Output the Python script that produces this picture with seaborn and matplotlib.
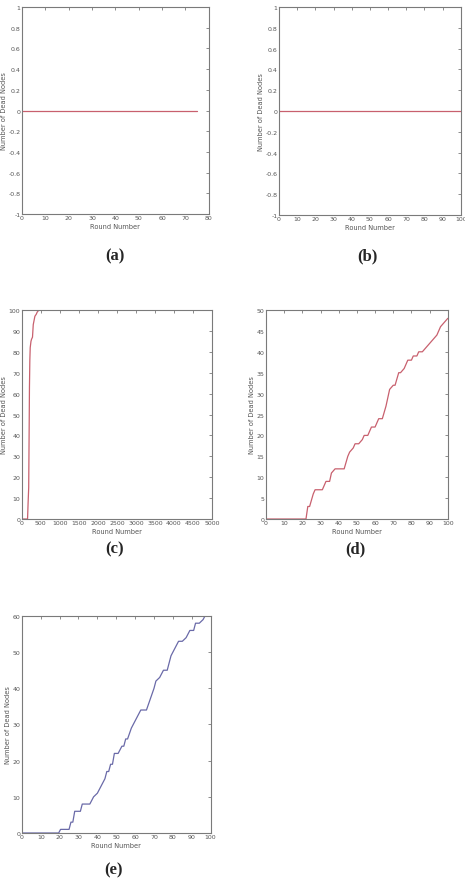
import numpy as np
import pandas as pd
import matplotlib
matplotlib.use('Agg')
import matplotlib.pyplot as plt
import seaborn as sns

# --- data ---
# (a) and (b): no dead nodes at all
a_rounds = [0, 75]
a_dead = [0, 0]
b_rounds = [0, 100]
b_dead = [0, 0]

# (c): all nodes die within ~500 rounds
c_rounds = [0, 150, 165, 180, 195, 200, 210, 220, 240, 255, 280, 300, 343, 380, 404, 450, 492]
c_dead = [0, 0, 8, 15, 50, 63, 76, 82, 85, 86, 87, 93, 97, 98, 99, 100, 100]

# (d): red step-like curve
d_rounds = [0, 21, 22, 23, 24, 26, 27, 31, 32, 33, 35, 36, 38, 43, 45, 46, 48, 49, 51, 53,
            54, 56, 58, 60, 62, 64, 66, 68, 70, 71, 73, 74, 76, 78, 80, 81, 83, 84, 86, 88,
            90, 92, 94, 96, 98, 100]
d_dead = [0, 0, 0, 3, 3, 6, 7, 7, 8, 9, 9, 11, 12, 12, 15, 16, 17, 18, 18, 19,
          20, 20, 22, 22, 24, 24, 27, 31, 32, 32, 35, 35, 36, 38, 38, 39, 39, 40, 40, 41,
          42, 43, 44, 46, 47, 48]

# (e): blue step-like curve
e_rounds = [0, 19.5, 20.5, 25, 26, 27, 28, 31, 32, 36, 38, 40, 42, 44, 45, 46, 47, 48, 49, 51,
            53, 54, 55, 56, 58, 60, 62, 63, 66, 68, 70, 71, 73, 75, 77, 79, 81, 83, 85, 87,
            89, 91, 92, 94, 96, 97]
e_dead = [0, 0, 1, 1, 3, 3, 6, 6, 8, 8, 10, 11, 13, 15, 17, 17, 19, 19, 22, 22,
          24, 24, 26, 26, 29, 31, 33, 34, 34, 37, 40, 42, 43, 45, 45, 49, 51, 53, 53, 54,
          56, 56, 58, 58, 59, 60]

unit_ticks = [-1, -0.8, -0.6, -0.4, -0.2, 0, 0.2, 0.4, 0.6, 0.8, 1]

sns.set_style('white')
plt.rcParams['font.family'] = ['DejaVu Sans']

RED = '#c8606e'
BLUE = '#6a6aa8'
GREY = '#7a7a7a'
TXT = '#555555'

fig = plt.figure(figsize=(4.65, 8.79), dpi=100)

panels = [
    ([0.047, 0.7554, 0.402, 0.2355], a_rounds, a_dead, RED, (0, 80), (-1, 1),
     list(range(0, 81, 10)), unit_ticks, '(a)', (115, 256)),
    ([0.600, 0.7543, 0.391, 0.2366], b_rounds, b_dead, RED, (0, 100), (-1, 1),
     list(range(0, 101, 10)), unit_ticks, '(b)', (367, 256)),
    ([0.047, 0.4084, 0.4086, 0.2378], c_rounds, c_dead, RED, (0, 5000), (0, 100),
     list(range(0, 5001, 500)), list(range(0, 101, 10)), '(c)', (115, 549)),
    ([0.572, 0.4084, 0.391, 0.2378], d_rounds, d_dead, RED, (0, 100), (0, 50),
     list(range(0, 101, 10)), list(range(0, 51, 5)), '(d)', (355, 549)),
    ([0.047, 0.0512, 0.406, 0.2469], e_rounds, e_dead, BLUE, (0, 100), (0, 60),
     list(range(0, 101, 10)), list(range(0, 61, 10)), '(e)', (113, 870)),
]

for rect, xs, ys, col, xl, yl, xt, yt, letter, (lx, ly) in panels:
    ax = fig.add_axes(rect)
    df = pd.DataFrame({'Round Number': xs, 'Number of Dead Nodes': ys})
    sns.lineplot(data=df, x='Round Number', y='Number of Dead Nodes', color=col,
                 linewidth=0.9, ax=ax, estimator=None, sort=False)
    ax.set_xlim(*xl)
    ax.set_ylim(*yl)
    ax.set_xticks(xt)
    ax.set_xticklabels([f'{v:g}' for v in xt])
    ax.set_yticks(yt)
    ax.set_yticklabels([f'{v:g}' for v in yt])
    ax.tick_params(direction='in', length=2, width=0.6, colors=GREY, labelsize=4.5,
                   top=True, right=True, pad=1)
    ax.tick_params(labelcolor=TXT)
    for s in ax.spines.values():
        s.set_color(GREY)
        s.set_linewidth(0.8)
    ax.set_xlabel('Round Number', fontsize=4.8, color=TXT, labelpad=2)
    ax.set_ylabel('Number of Dead Nodes', fontsize=4.8, color=TXT, labelpad=1)
    # panel letter under each plot
    fig.text(lx / 465, 1 - ly / 879, letter, ha='center', va='center',
             fontsize=12, fontweight='bold', family=['Liberation Serif', 'DejaVu Serif'])

fig.savefig('out.png', dpi=100)
